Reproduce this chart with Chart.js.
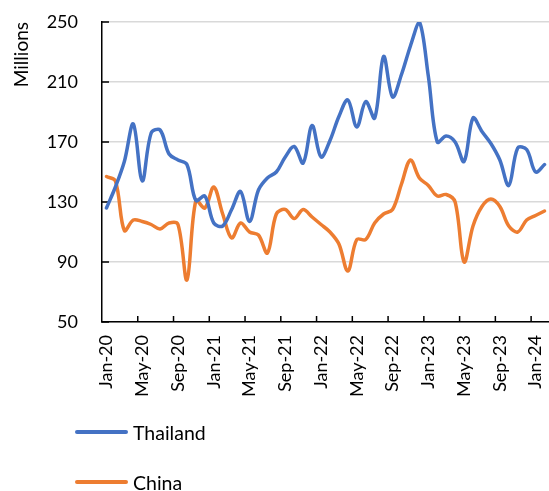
<!DOCTYPE html>
<html>
<head>
<meta charset="utf-8">
<script src="https://cdn.jsdelivr.net/npm/chart.js@4"></script>
<style>
  body { margin: 0; background: #fff; }
  #wrap { position: relative; width: 549px; height: 491px; overflow: hidden; }
  #legend { position: absolute; left: 75px; top: 416px; font-family: Lato, sans-serif; font-size: 19.5px; color: #000; }
  .item { display: flex; align-items: center; height: 32px; margin-bottom: 18px; }
  .swatch { width: 53px; height: 3.5px; margin-right: 5px; border-radius: 2px; }
</style>
</head>
<body>
<div id="wrap">
  <canvas id="lineChart" width="549" height="491"></canvas>
  <div id="legend"></div>
</div>
<script>
var months = ["Jan-20","Feb-20","Mar-20","Apr-20","May-20","Jun-20","Jul-20","Aug-20","Sep-20","Oct-20","Nov-20","Dec-20",
              "Jan-21","Feb-21","Mar-21","Apr-21","May-21","Jun-21","Jul-21","Aug-21","Sep-21","Oct-21","Nov-21","Dec-21",
              "Jan-22","Feb-22","Mar-22","Apr-22","May-22","Jun-22","Jul-22","Aug-22","Sep-22","Oct-22","Nov-22","Dec-22",
              "Jan-23","Feb-23","Mar-23","Apr-23","May-23","Jun-23","Jul-23","Aug-23","Sep-23","Oct-23","Nov-23","Dec-23",
              "Jan-24","Feb-24"];

var thailand = [126,140,157,182,144,176,178,162,158,155,131,134,
                116,114,125,137,117,138,146,150,160,167,156,181,
                160,171,187,198,180,197,186,227,200,215,234,250,
                214,170,174,170,157,186,177,169,158,141,166,165,
                150,155];

var china = [147,144,111,118,117,115,112,116,115,78,131,126,
             140,122,106,116,110,108,96,122,125,119,125,120,
             115,110,102,84,105,105,116,122,125,142,158,146,
             141,134,135,130,90,114,127,132,127,114,110,118,
             121,124];

var yTicks = [50, 90, 130, 170, 210, 250];

var seriesNames = ["Thailand", "China"];
var seriesColors = ["#4472C4", "#ED7D31"];

// excel style tick marks pointing into the plot
var insideTicks = {
    id: 'insideTicks',
    beforeDatasetsDraw: function(chart) {
        var ctx = chart.ctx, area = chart.chartArea;
        var x = chart.scales.x, y = chart.scales.y;
        var half = (x.getPixelForValue(1) - x.getPixelForValue(0)) / 2;
        ctx.save();
        ctx.strokeStyle = '#000';
        ctx.lineWidth = 1.5;
        ctx.beginPath();
        y.ticks.forEach(function(t, i) {
            var py = y.getPixelForTick(i);
            ctx.moveTo(area.left, py);
            ctx.lineTo(area.left + 7, py);
        });
        for (var i = 4; i < months.length; i += 4) {
            var px = x.getPixelForValue(i) - half;
            ctx.moveTo(px, area.bottom);
            ctx.lineTo(px, area.bottom - 6);
        }
        ctx.stroke();
        ctx.restore();
    }
};

var font = { family: 'Lato, sans-serif', size: 18 };

new Chart(document.getElementById('lineChart').getContext('2d'), {
    type: 'line',
    data: {
        labels: months,
        datasets: [
            { label: seriesNames[0], data: thailand, borderColor: seriesColors[0], backgroundColor: seriesColors[0] },
            { label: seriesNames[1], data: china, borderColor: seriesColors[1], backgroundColor: seriesColors[1] }
        ]
    },
    options: {
        responsive: false,
        animation: false,
        layout: { padding: { left: 0, right: 0, top: 22, bottom: 89 } },
        elements: {
            line: { borderWidth: 3.5, tension: 0.35, borderCapStyle: 'round', borderJoinStyle: 'round' },
            point: { radius: 0 }
        },
        plugins: { legend: { display: false }, tooltip: { enabled: false } },
        scales: {
            x: {
                offset: true,
                grid: { drawOnChartArea: false, drawTicks: false, offset: true },
                border: { color: '#000', width: 1.5 },
                ticks: {
                    autoSkip: false, maxRotation: 90, minRotation: 90, padding: 13,
                    color: '#000', font: font,
                    callback: function(v, i) { return i % 4 === 0 ? months[i] : ''; }
                },
                afterFit: function(s) { s.height = 80; s.paddingLeft = 0; s.paddingRight = 0; }
            },
            y: {
                min: 50, max: 250,
                afterBuildTicks: function(s) { s.ticks = yTicks.map(function(v) { return { value: v }; }); },
                grid: { color: '#d9d9d9', lineWidth: 1.5, drawTicks: false },
                border: { color: '#000', width: 1.5 },
                ticks: { padding: 24, color: '#000', font: font },
                title: { display: true, text: 'Millions', align: 'end', color: '#000', font: { family: 'Lato, sans-serif', size: 19 }, padding: { top: 10 } },
                afterFit: function(s) { s.width = 102; s.paddingTop = 0; s.paddingBottom = 0; }
            }
        }
    },
    plugins: [insideTicks]
});

var legend = document.getElementById('legend');
seriesNames.forEach(function(name, i) {
    var item = document.createElement('div');
    item.className = 'item';
    var sw = document.createElement('span');
    sw.className = 'swatch';
    sw.style.background = seriesColors[i];
    var txt = document.createElement('span');
    txt.textContent = name;
    item.appendChild(sw);
    item.appendChild(txt);
    legend.appendChild(item);
});
</script>
</body>
</html>
